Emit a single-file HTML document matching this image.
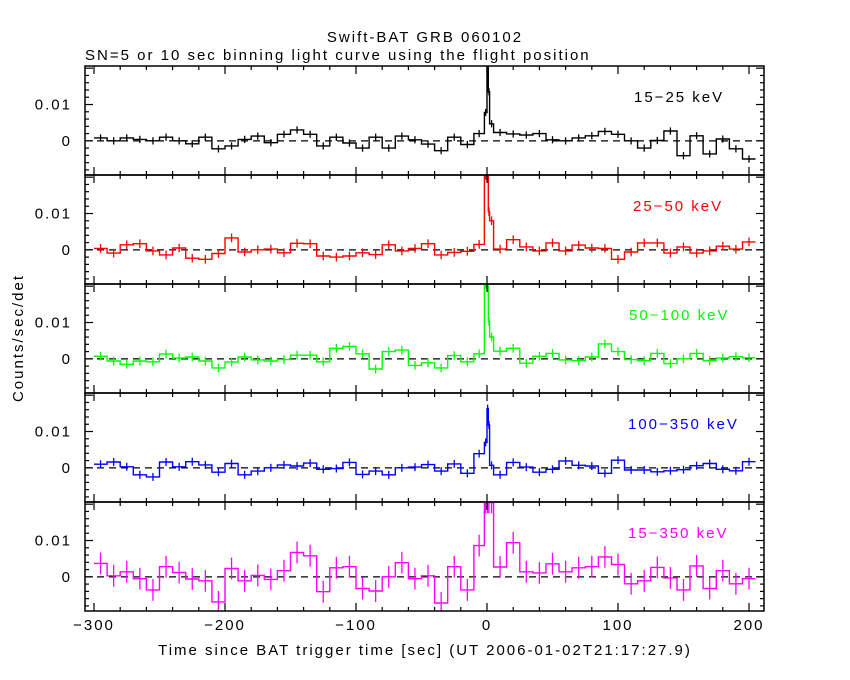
<!DOCTYPE html>
<html><head><meta charset="utf-8"><style>
html,body{margin:0;padding:0;background:#fff;}
svg{display:block;font-family:"Liberation Sans",sans-serif;}
text{letter-spacing:2px;}
</style></head><body>
<svg id="chart" width="850" height="680" xmlns="http://www.w3.org/2000/svg">
<rect width="850" height="680" fill="#fff"/>
<text x="425" y="42" font-size="15" text-anchor="middle">Swift-BAT GRB 060102</text>
<text x="85" y="60" font-size="15">SN=5 or 10 sec binning light curve using the flight position</text>
<text x="0" y="0" font-size="15" text-anchor="middle" transform="translate(23,338) rotate(-90)">Counts/sec/det</text>
<text x="425" y="655" font-size="15" text-anchor="middle">Time since BAT trigger time [sec] (UT 2006-01-02T21:17:27.9)</text>
<g id="plots"></g>
</svg>
<script>
// ---- data ----
const preCenters = [-295,-285,-275,-265,-255,-245,-235,-225,-215,-205,-195,-185,-175,-165,-155,-145,-135,-125,-115,-105,-95,-85,-75,-65,-55,-45,-35,-25,-15];
const midStarts = [-10,-2,0,1,2];
const midEnds = [-2,0,1,2,5];
const postCenters = [10,20,30,40,50,60,70,80,90,100,110,120,130,140,150,160,170,180,190,200];
const bandLabels = ["15\u221225 keV","25\u221250 keV","50\u2212100 keV","100\u2212350 keV","15\u2212350 keV"];
const bandColors = ["#000000","#ff0000","#00ff00","#0000ff","#ff00ff"];
const bandErrors = [0.001,0.0012,0.0012,0.0011,0.003];
const xTicks = [-300,-200,-100,0,100,200];
const yTickLabels = ["0.01","0"];
const yTickValues = [0.01,0];

const pre1 = [0.0008,0,0.0008,0.0004,0,0.001,0,-0.0008,0.001,-0.0022,-0.0014,0.0004,0.0013,-0.0005,0.0018,0.003,0.0018,-0.0014,0.001,-0.0006,-0.002,0.001,-0.002,0.0013,0.0003,-0.0009,-0.0027,0.001,-0.001];
const mid1 = [0.002,0.0078,0.0205,0.0135,0.0047];
const post1 = [0.0023,0.0019,0.0016,0.002,0.0003,0,0.0008,0.0014,0.0026,0.0018,0,-0.002,0.0001,0.0027,-0.0041,0.0014,-0.0036,0.0005,-0.0022,-0.005];

const pre2 = [0.0004,-0.0009,0.0014,0.0017,-0.0003,-0.0014,0.0005,-0.0023,-0.0026,-0.001,0.0033,-0.0006,0,0.0002,-0.0008,0.0018,0.0017,-0.0017,-0.002,-0.0017,-0.0008,-0.0013,0.0014,-0.0003,0.0004,0.0017,-0.0014,-0.0007,-0.0004];
const mid2 = [0.0015,0.0205,0.0205,0.0105,0.008];
const post2 = [0.0002,0.0028,0.0008,-0.0003,0.0019,-0.0003,0.0013,0.0005,0.0004,-0.0026,-0.0006,0.0019,0.0019,-0.0009,0.0008,-0.0009,-0.0003,0.001,0.0002,0.0022];

const pre3 = [0.0007,-0.0006,-0.0015,-0.0006,-0.0008,0.0013,0.0002,0.0005,-0.0006,-0.0025,-0.0009,0.0005,-0.0003,-0.0006,-0.0002,0.001,0.001,-0.0008,0.0029,0.0034,0.0014,-0.0028,0.002,0.0024,-0.0018,-0.0011,-0.0025,0.0009,-0.0008];
const mid3 = [0.0014,0.0205,0.0205,0.0103,0.006];
const post3 = [0.0021,0.0029,-0.0012,0.0007,0.0015,-0.0003,-0.0005,0.0005,0.0041,0.002,-0.0002,-0.0005,0.0015,-0.0013,0,0.0015,-0.0005,0.0002,0.0006,0.0003];

const pre4 = [0.001,0.0016,0.0003,-0.0019,-0.0025,0.0016,0.0003,0.0017,0.0008,-0.0012,0.0012,-0.0019,-0.0009,0,0.0008,0.0005,0.0013,-0.0004,-0.0002,0.0015,-0.0018,-0.0009,-0.0019,0,0.0002,0.0009,-0.0009,0.0011,-0.0015];
const mid4 = [0.0039,0.007,0.0163,0.0118,0.0007];
const post4 = [-0.0019,0.0015,0.0002,-0.0012,-0.0004,0.0019,0.0007,0.0005,-0.0015,0.0021,-0.0006,-0.0006,-0.0011,-0.0008,-0.0005,0.0006,0.0012,-0.0004,-0.0008,0.0017];

const pre5 = [0.0037,0.0003,0.0014,-0.0005,-0.0036,0.0028,0.0012,-0.0006,-0.0011,-0.0069,0.0023,-0.0011,0.0004,-0.0007,0.0017,0.0067,0.0058,-0.0041,0.0025,0.0028,-0.0032,-0.0039,0,0.0039,-0.0005,0.0003,-0.0072,0.0028,-0.0036];
const mid5 = [0.0086,0.0205,0.0205,0.0205,0.0205];
const post5 = [0.0027,0.0094,0.0014,0.0011,0.0036,0.0014,0.0025,0.0028,0.0055,0.0034,-0.0019,-0.0011,0.0026,-0.0003,-0.0036,0.003,-0.0032,0.0017,-0.0019,-0.0005];

const preSeries = [pre1,pre2,pre3,pre4,pre5];
const midSeries = [mid1,mid2,mid3,mid4,mid5];
const postSeries = [post1,post2,post3,post4,post5];

// ---- layout ----
const L = 85, R = 764, TOP = 66, PH = 109;
const yMin = -0.0094, yMax = 0.0206;
const labelX = [634,633,629,628,628];
function xs(t){ return 487 + (t) * 1.31; }
function ys(v, i){ const top = TOP + i*PH; return top + (yMax - v)/(yMax - yMin)*PH; }
const NS = "http://www.w3.org/2000/svg";
const g = document.getElementById('plots');
function mk(tag, attrs, parent){ const e = document.createElementNS(NS, tag); for (const k in attrs) e.setAttribute(k, attrs[k]); (parent||g).appendChild(e); return e; }

const defs = mk('defs', {});
for (let i = 0; i < 5; i++) {
  const cp = mk('clipPath', {id: 'clip' + i}, defs);
  mk('rect', {x: L, y: TOP + i*PH, width: R - L, height: PH}, cp);
}

for (let i = 0; i < 5; i++) {
  const top = TOP + i*PH, bot = top + PH;
  const panel = mk('g', {});
  
  
  const col = bandColors[i];
  const bins = [];
  preSeries[i].forEach((v, k) => bins.push([preCenters[k]-5, preCenters[k]+5, v]));
  midSeries[i].forEach((v, k) => bins.push([midStarts[k], midEnds[k], v]));
  postSeries[i].forEach((v, k) => bins.push([postCenters[k]-5, postCenters[k]+5, v]));
  const z = mk('line', {x1: L, x2: R, y1: ys(0,i), y2: ys(0,i), stroke: '#000', 'stroke-width': 1.3, 'stroke-dasharray': '7,5'}, panel);
  
  
  let d = '';
  bins.forEach((b, k) => {
    const x0 = xs(b[0]), x1 = xs(b[1]), y = ys(b[2], i);
    d += (k === 0 ? 'M' : 'L') + x0.toFixed(1) + ',' + y.toFixed(1) + 'L' + x1.toFixed(1) + ',' + y.toFixed(1);
  });
  const cg = mk('g', {'clip-path': 'url(#clip' + i + ')'}, panel);
  const step = mk('path', {d: d, fill: 'none', stroke: col, 'stroke-width': 1.4}, cg);
  
  
  bins.forEach((b) => {
    const xc = xs((b[0] + b[1]) / 2);
    const e = mk('line', {x1: xc, x2: xc, y1: ys(b[2] + bandErrors[i], i), y2: ys(b[2] - bandErrors[i], i), stroke: col, 'stroke-width': 1.3}, cg);
    
    
  });
  const fr = mk('rect', {x: L, y: top, width: R - L, height: PH, fill: 'none', stroke: '#000', 'stroke-width': 1.5}, panel);
  
  
  for (let t = -300; t <= 200; t += 20) {
    const major = (t % 100 === 0), len = major ? 8 : 4, x = xs(t);
    mk('line', {x1: x, x2: x, y1: top, y2: top + len, stroke: '#000', 'stroke-width': 1.2}, panel);
    mk('line', {x1: x, x2: x, y1: bot, y2: bot - len, stroke: '#000', 'stroke-width': 1.2}, panel);
  }
  for (let v = -0.008; v <= 0.0205; v += 0.002) {
    const vv = Math.round(v * 1000) / 1000;
    const major = Math.abs(vv % 0.01) < 1e-9, len = major ? 8 : 4, y = ys(vv, i);
    if (y < top + 1 || y > bot - 1) continue;
    mk('line', {x1: L, x2: L + len, y1: y, y2: y, stroke: '#000', 'stroke-width': 1.2}, panel);
    mk('line', {x1: R, x2: R - len, y1: y, y2: y, stroke: '#000', 'stroke-width': 1.2}, panel);
  }
  yTickValues.forEach((v, k) => {
    const tl = mk('text', {x: 72, y: ys(v, i) + 5, 'font-size': 15, 'text-anchor': 'end'}, panel);
    tl.textContent = yTickLabels[k];
    
    
  });
  const lb = mk('text', {x: labelX[i], y: top + 36, 'font-size': 15, fill: col}, panel);
  lb.textContent = bandLabels[i];
  
  
}
xTicks.forEach((t) => {
  const tl = mk('text', {x: xs(t), y: 630, 'font-size': 15, 'text-anchor': 'middle'});
  tl.textContent = t < 0 ? '\u2212' + (-t) : String(t);
  
  
});
</script>
</body></html>
